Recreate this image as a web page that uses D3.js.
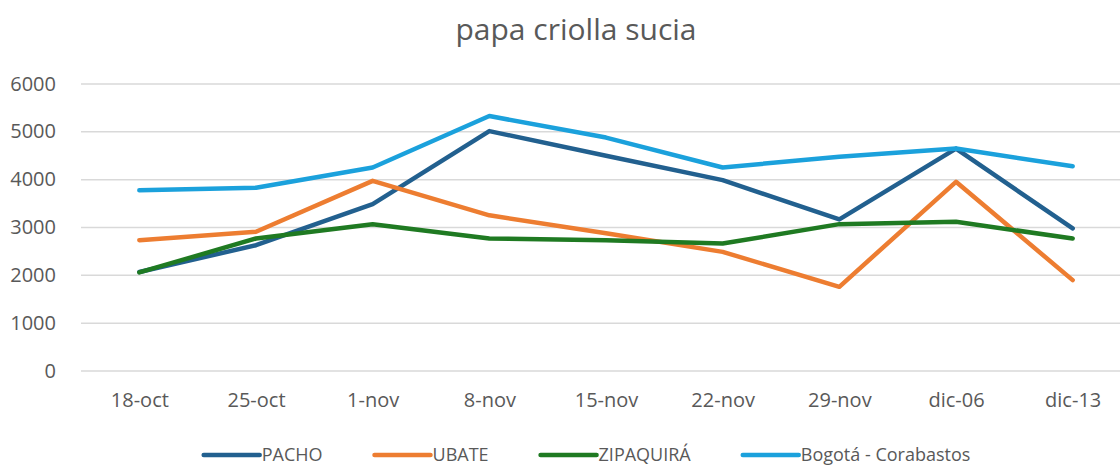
<!DOCTYPE html>
<meta charset="utf-8">
<html>
  <head>
    <title>papa criolla sucia</title>
    <script src="https://d3js.org/d3.v7.min.js"></script>
    <style>
      body { margin: 0; background: #fff; }
      text { font-family: "Open Sans", sans-serif; fill: #595959; }
    </style>
  </head>
  <body>
    <div id="chart"></div>
    <script>
        // data
        var dates = ["18-oct", "25-oct", "1-nov", "8-nov", "15-nov", "22-nov", "29-nov", "dic-06", "dic-13"];
        var pacho = [2070, 2630, 3490, 5015, 4500, 3990, 3170, 4650, 2980];
        var ubate = [2735, 2910, 3975, 3255, 2880, 2490, 1760, 3955, 1900];
        var zipaquira = [2060, 2770, 3070, 2770, 2735, 2665, 3070, 3120, 2770];
        var bogota = [3780, 3830, 4255, 5330, 4880, 4255, 4480, 4650, 4280];
        var y_ticks = [0, 1000, 2000, 3000, 4000, 5000, 6000];

        var series = [
            {name: "PACHO", values: pacho, color: "#22608f"},
            {name: "UBATE", values: ubate, color: "#ed7d31"},
            {name: "ZIPAQUIRÁ", values: zipaquira, color: "#1f7a22"},
            {name: "Bogotá - Corabastos", values: bogota, color: "#1ba1dc"}
        ];

        var total_width = 1120, total_height = 466;
        var plot = {left: 81, right: 1131, top: 84, bottom: 371};

        var svg = d3.select("#chart").append("svg")
            .attr("width", total_width)
            .attr("height", total_height);

        var x_scale = d3.scalePoint()
            .domain(dates)
            .range([plot.left, plot.right])
            .padding(0.5);
        var y_scale = d3.scaleLinear()
            .domain([0, 6000])
            .range([plot.bottom, plot.top]);

        // title
        svg.append("text")
            .attr("x", 576)
            .attr("y", 40)
            .attr("text-anchor", "middle")
            .style("font-size", "30px")
            .text("papa criolla sucia");

        // gridlines
        svg.append("g").selectAll("line")
            .data(y_ticks)
            .enter().append("line")
            .attr("x1", plot.left)
            .attr("x2", plot.right)
            .attr("y1", function(d){ return y_scale(d); })
            .attr("y2", function(d){ return y_scale(d); })
            .attr("stroke", "#d9d9d9")
            .attr("stroke-width", 1.5);

        // y axis labels
        var y_axis = d3.axisLeft(y_scale).tickValues(y_ticks).tickFormat(d3.format("d")).tickSize(0).tickPadding(0);
        var gy = svg.append("g")
            .attr("transform", "translate(56,0)")
            .call(y_axis);
        gy.select(".domain").remove();
        gy.selectAll("text").style("font-size", "20px").attr("fill", "#595959").attr("dy", "0.3em");

        // x axis labels
        var x_axis = d3.axisBottom(x_scale).tickSize(0).tickPadding(0);
        var gx = svg.append("g")
            .attr("transform", "translate(0,400)")
            .call(x_axis);
        gx.select(".domain").remove();
        gx.selectAll("text").style("font-size", "20px").attr("fill", "#595959").attr("dy", "0.35em");

        // lines
        var line = d3.line()
            .x(function(d, i){ return x_scale(dates[i]); })
            .y(function(d){ return y_scale(d); });

        svg.append("g").selectAll("path")
            .data(series)
            .enter().append("path")
            .attr("d", function(d){ return line(d.values); })
            .attr("fill", "none")
            .attr("stroke", function(d){ return d.color; })
            .attr("stroke-width", 4.5)
            .attr("stroke-linejoin", "round")
            .attr("stroke-linecap", "round");

        // legend, laid out left to right then centred
        var legend = svg.append("g");
        var item_x = 0, sw_len = 56, gap = 52, leg_y = 455;
        series.forEach(function(s, i){
            if (i > 0) item_x += gap;
            legend.append("line")
                .attr("x1", item_x)
                .attr("x2", item_x + sw_len)
                .attr("y1", leg_y)
                .attr("y2", leg_y)
                .attr("stroke", s.color)
                .attr("stroke-width", 4.5)
                .attr("stroke-linecap", "round");
            var t = legend.append("text")
                .attr("x", item_x + sw_len + 2)
                .attr("y", leg_y + 6)
                .style("font-size", "18px")
                .text(s.name);
            item_x += sw_len + 2 + t.node().getComputedTextLength();
        });
        legend.attr("transform", "translate(" + (587 - item_x / 2) + ",0)");
    </script>
  </body>
</html>
